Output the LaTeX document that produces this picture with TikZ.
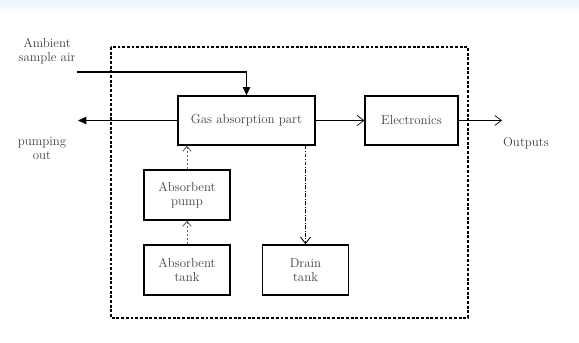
\documentclass[tikz,border=0pt]{standalone}
\usepackage{tikz}
\usetikzlibrary{arrows.meta, positioning}
\definecolor{bandblue}{RGB}{236,243,251}
\tikzset{
  blockbox/.style={draw, line width=1pt, align=center, font=\fontsize{11}{12}\selectfont,
                   text=black!75, inner sep=2pt},
  smallbox/.style={blockbox, minimum width=2.58cm, minimum height=1.5cm},
  outerline/.style={line width=0.9pt, dash pattern=on 2.5pt off 1.5pt},
  airarrow/.style={-{Triangle[length=2.5mm, width=2.2mm]}, line width=1.1pt},
  signalarrow/.style={-{Straight Barb[length=2mm, width=3mm]}, line width=0.6pt},
  feedarrow/.style={-{Straight Barb[length=1.5mm, width=2.5mm]}, line width=0.8pt,
                    black!60, dash pattern=on 2pt off 1.5pt},
  drainarrow/.style={-{Straight Barb[length=2mm, width=3mm]}, line width=0.8pt,
                     dash pattern=on 3pt off 1.5pt on 0.8pt off 1.5pt},
  sidelabel/.style={font=\fontsize{11}{12}\selectfont, text=black!75, align=center}
}
\begin{document}
\begin{tikzpicture}[x=0.03cm, y=-0.03cm]
\useasboundingbox (0,0) rectangle (579,343);

% light band at the top
\shade[top color=bandblue, bottom color=white] (0,0) rectangle (579,14);

% Analyser enclosure
\draw[outerline] (111,47) rectangle (468,318);

% Blocks
\node[blockbox, minimum width=4.11cm, minimum height=1.47cm] (gas) at (246.5,120.5) {Gas absorption part};
\node[blockbox, minimum width=2.79cm, minimum height=1.47cm] (elec) at (411.5,120.5) {Electronics};
\node[smallbox] (pump)  at (187,195) {Absorbent\\pump};
\node[smallbox] (tank)  at (187,270) {Absorbent\\tank};
\node[smallbox] (drain) at (305.5,270) {Drain\\tank};

% Free ends
\coordinate (airin)   at (77,72);
\coordinate (pumpout) at (78,120.5);
\coordinate (outend)  at (502,120.5);

% Labels
\node[sidelabel] (airtxt) at (47,51) {Ambient\\sample air};
\node[sidelabel] (pumptxt) at (42,148) {pumping\\out};
\node[sidelabel] (outtxt)  at (526,143) {Outputs};

% Arrows
\draw[airarrow] (airin) -| (gas.north);
\draw[airarrow] (gas.west) -- (pumpout);
\draw[signalarrow] (gas.east) -- (elec.west);
\draw[signalarrow] (elec.east) -- (outend);
\draw[feedarrow] (pump.north) -- (gas.south -| pump.north);
\draw[feedarrow] (tank.north) -- (pump.south);
\draw[drainarrow] (gas.south -| drain.north) -- (drain.north);

\end{tikzpicture}
\end{document}
